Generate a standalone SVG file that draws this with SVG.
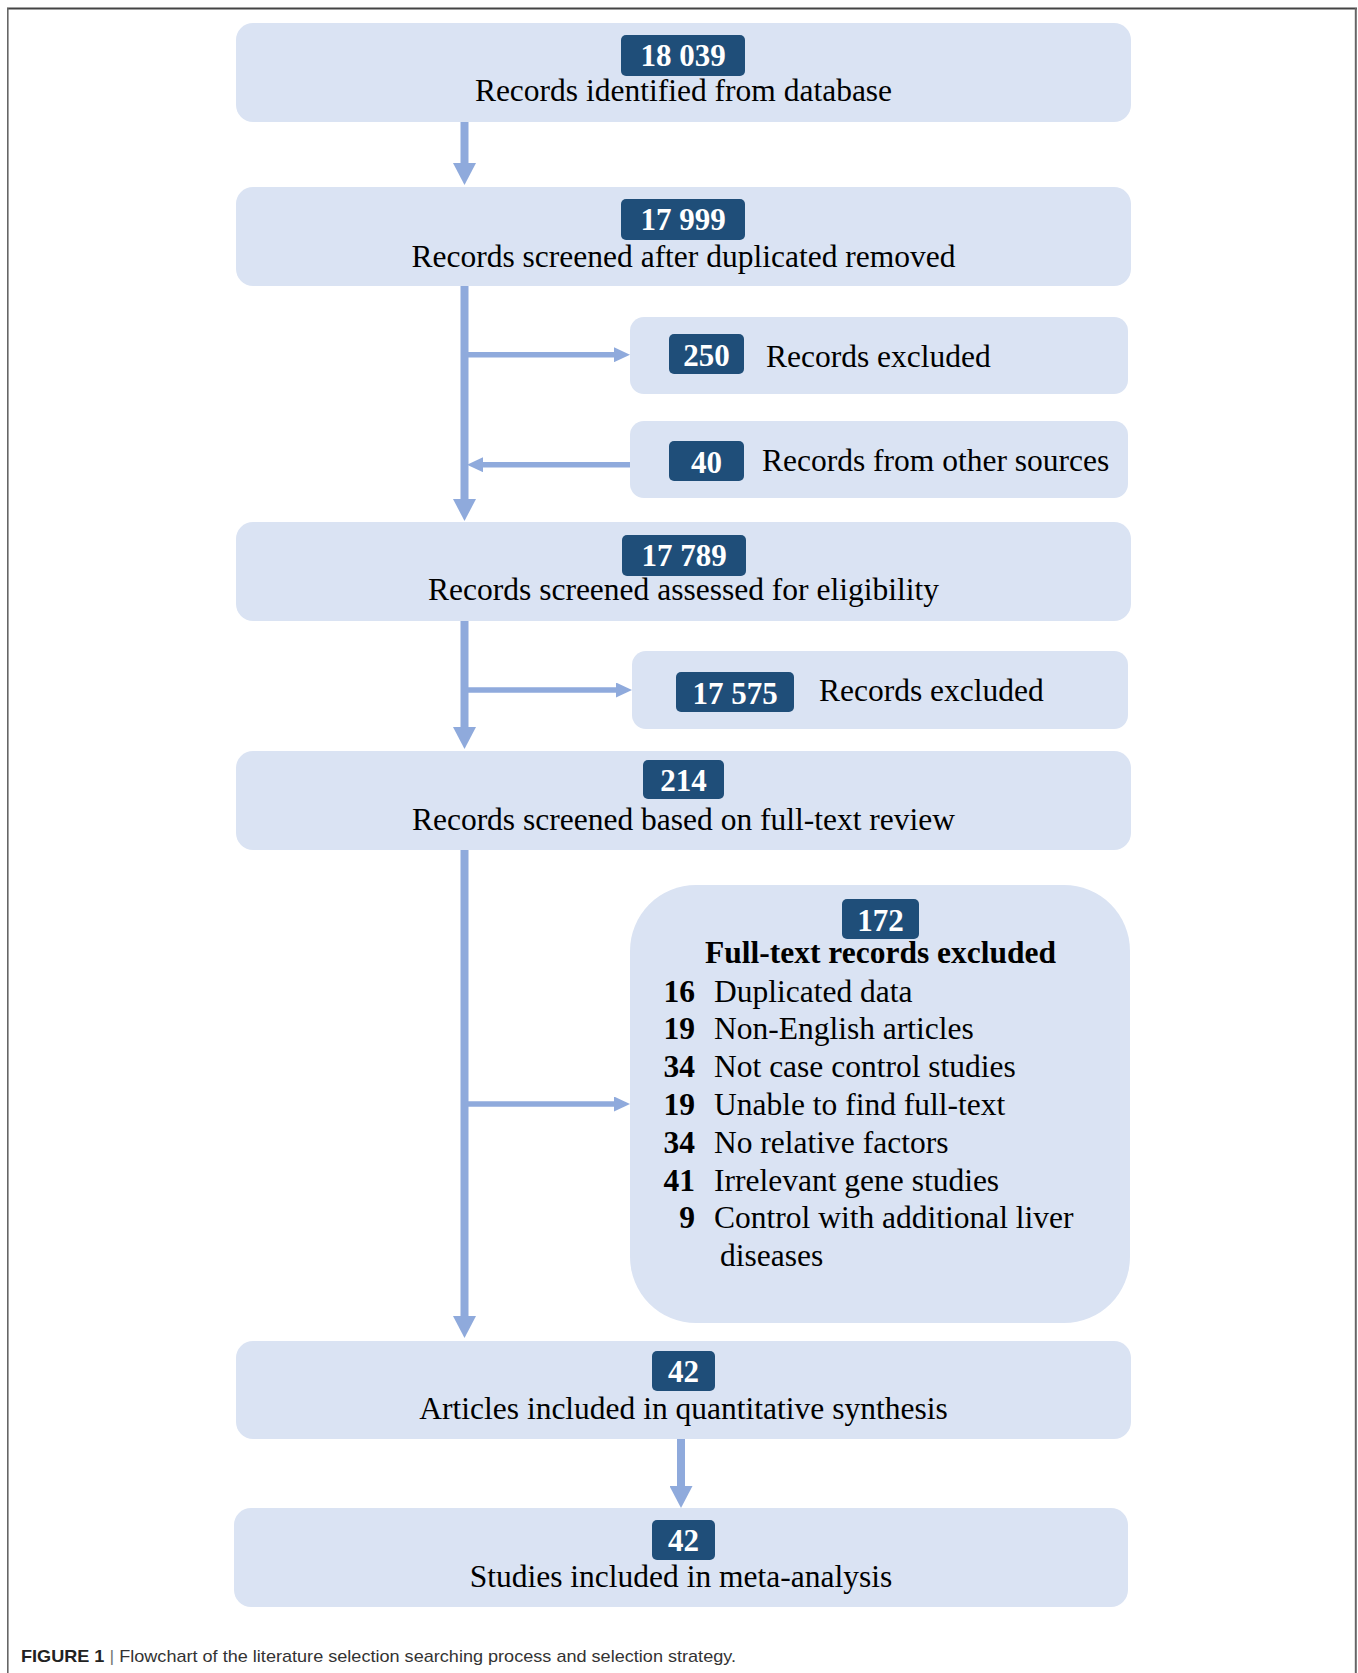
<svg xmlns="http://www.w3.org/2000/svg" width="1358" height="1673" viewBox="0 0 1358 1673">
<style>
.box{fill:#dae3f3}
.badge{fill:#1f4e79}
.num{font-family:"Liberation Serif","Times New Roman",serif;font-weight:bold;font-size:31px;fill:#ffffff;text-anchor:middle}
.lbl{font-family:"Liberation Serif","Times New Roman",serif;font-size:31.5px;fill:#000000}
.mid{text-anchor:middle}
.b{font-weight:bold}
.main{stroke:#8faadc;stroke-width:8;fill:none}
.branch{stroke:#8faadc;stroke-width:5.5;fill:none}
.frame{stroke:#666;fill:none}
.cap{font-family:"Liberation Sans",Arial,sans-serif;font-size:17px;fill:#333}
</style>
<defs>
<marker id="bigArrow" viewBox="0 0 22 23" refX="2" refY="11.5" markerWidth="22" markerHeight="23" markerUnits="userSpaceOnUse" orient="auto">
<path d="M0,0 L22,11.5 L0,23 z" fill="#8faadc"/>
</marker>
<marker id="smallArrow" viewBox="0 0 16 15" refX="2" refY="7.5" markerWidth="16" markerHeight="15" markerUnits="userSpaceOnUse" orient="auto">
<path d="M0,0 L16,7.5 L0,15 z" fill="#8faadc"/>
</marker>
</defs>
<rect width="1358" height="1673" fill="#ffffff"/>
<g id="frame">
<line class="frame" x1="7" y1="8.5" x2="1357" y2="8.5" stroke-width="1.8" style="stroke:#444"/>
<line class="frame" x1="7.8" y1="8" x2="7.8" y2="1673" stroke-width="1.6"/>
<line class="frame" x1="1355.8" y1="8" x2="1355.8" y2="1673" stroke-width="2"/>
</g>
<g id="connectors">
<line class="main" x1="464.5" y1="122" x2="464.5" y2="165" marker-end="url(#bigArrow)"/>
<line class="main" x1="464.5" y1="286" x2="464.5" y2="501" marker-end="url(#bigArrow)"/>
<line class="main" x1="464.5" y1="621" x2="464.5" y2="729" marker-end="url(#bigArrow)"/>
<line class="main" x1="464.5" y1="850" x2="464.5" y2="1318" marker-end="url(#bigArrow)"/>
<line class="main" x1="681" y1="1439" x2="681" y2="1488" marker-end="url(#bigArrow)"/>
<line class="branch" x1="468" y1="354.7" x2="616" y2="354.7" marker-end="url(#smallArrow)"/>
<line class="branch" x1="630" y1="464.7" x2="481" y2="464.7" marker-end="url(#smallArrow)"/>
<line class="branch" x1="468" y1="690" x2="618" y2="690" marker-end="url(#smallArrow)"/>
<line class="branch" x1="468" y1="1104" x2="616" y2="1104" marker-end="url(#smallArrow)"/>
</g>
<g id="node-identified">
<rect class="box" x="236" y="23" width="895" height="99" rx="17"/>
<rect class="badge" x="621" y="35" width="124" height="41" rx="5"/>
<text class="num" x="683" y="66">18 039</text>
<text class="lbl mid" x="683.5" y="101">Records identified from database</text>
</g>
<g id="node-screened">
<rect class="box" x="236" y="187" width="895" height="99" rx="17"/>
<rect class="badge" x="621" y="199" width="124" height="41" rx="5"/>
<text class="num" x="683" y="230">17 999</text>
<text class="lbl mid" x="683.5" y="267">Records screened after duplicated removed</text>
</g>
<g id="node-excluded-250">
<rect class="box" x="630" y="317" width="498" height="77" rx="14"/>
<rect class="badge" x="669" y="334" width="75" height="40" rx="5"/>
<text class="num" x="706.5" y="366">250</text>
<text class="lbl" x="766" y="367">Records excluded</text>
</g>
<g id="node-other-40">
<rect class="box" x="630" y="421" width="498" height="77" rx="14"/>
<rect class="badge" x="669" y="441" width="75" height="40" rx="5"/>
<text class="num" x="706.5" y="473">40</text>
<text class="lbl" x="762" y="471">Records from other sources</text>
</g>
<g id="node-eligibility">
<rect class="box" x="236" y="522" width="895" height="99" rx="17"/>
<rect class="badge" x="622" y="535" width="124" height="41" rx="5"/>
<text class="num" x="684" y="566">17 789</text>
<text class="lbl mid" x="683.5" y="600">Records screened assessed for eligibility</text>
</g>
<g id="node-excluded-17575">
<rect class="box" x="632" y="651" width="496" height="78" rx="14"/>
<rect class="badge" x="676" y="672" width="118" height="40" rx="5"/>
<text class="num" x="735" y="704">17 575</text>
<text class="lbl" x="819" y="701">Records excluded</text>
</g>
<g id="node-fulltext">
<rect class="box" x="236" y="751" width="895" height="99" rx="17"/>
<rect class="badge" x="643" y="760" width="81" height="39" rx="5"/>
<text class="num" x="683.5" y="791">214</text>
<text class="lbl mid" x="683.5" y="830">Records screened based on full-text review</text>
</g>
<g id="node-excluded-172">
<rect class="box" x="630" y="885" width="500" height="438" rx="66"/>
<rect class="badge" x="842" y="899" width="77" height="40" rx="5"/>
<text class="num" x="880.5" y="931">172</text>
<text class="lbl mid b" x="880.5" y="963">Full-text records excluded</text>
<g class="lbl">
<text class="b" x="695" y="1002" text-anchor="end">16</text><text x="714" y="1002">Duplicated data</text>
<text class="b" x="695" y="1039" text-anchor="end">19</text><text x="714" y="1039">Non-English articles</text>
<text class="b" x="695" y="1077" text-anchor="end">34</text><text x="714" y="1077">Not case control studies</text>
<text class="b" x="695" y="1115" text-anchor="end">19</text><text x="714" y="1115">Unable to find full-text</text>
<text class="b" x="695" y="1153" text-anchor="end">34</text><text x="714" y="1153">No relative factors</text>
<text class="b" x="695" y="1191" text-anchor="end">41</text><text x="714" y="1191">Irrelevant gene studies</text>
<text class="b" x="695" y="1228" text-anchor="end">9</text><text x="714" y="1228">Control with additional liver</text>
<text x="720" y="1266">diseases</text>
</g>
</g>
<g id="node-articles">
<rect class="box" x="236" y="1341" width="895" height="98" rx="17"/>
<rect class="badge" x="652" y="1351" width="63" height="40" rx="5"/>
<text class="num" x="683.5" y="1382">42</text>
<text class="lbl mid" x="683.5" y="1419">Articles included in quantitative synthesis</text>
</g>
<g id="node-studies">
<rect class="box" x="234" y="1508" width="894" height="99" rx="17"/>
<rect class="badge" x="652" y="1520" width="63" height="40" rx="5"/>
<text class="num" x="683.5" y="1551">42</text>
<text class="lbl mid" x="681" y="1587">Studies included in meta-analysis</text>
</g>
<text class="cap" x="21" y="1662" textLength="715" lengthAdjust="spacingAndGlyphs"><tspan font-weight="bold" fill="#222">FIGURE 1</tspan><tspan fill="#777"> | </tspan><tspan>Flowchart of the literature selection searching process and selection strategy.</tspan></text>
</svg>
